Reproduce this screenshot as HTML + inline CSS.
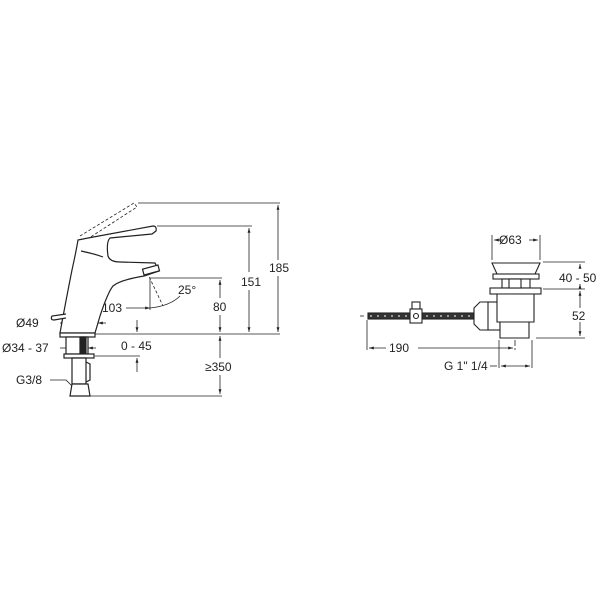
<!DOCTYPE html>
<html><head><meta charset="utf-8"><style>
html,body{margin:0;padding:0;background:#fff}
svg{display:block}
text{font-family:"Liberation Sans",sans-serif;font-size:12px;fill:#222}
</style></head><body>
<svg width="600" height="600" viewBox="0 0 600 600" xmlns="http://www.w3.org/2000/svg">
<defs>
<marker id="a" viewBox="0 0 10 10" refX="10" refY="5" markerWidth="6" markerHeight="6" orient="auto-start-reverse"><path d="M0,2 L10,5 L0,8 z" fill="#222"/></marker>
</defs>
<g stroke="#222" fill="none" stroke-width="0.8">
<path d="M80,236 L134,203 L137,207 L86,240" stroke-dasharray="3,2"/>
<line x1="138" y1="203" x2="280" y2="203"/>
<line x1="157" y1="226" x2="252" y2="226"/>
<line x1="150" y1="278" x2="222" y2="278"/>
<line x1="66" y1="334" x2="280" y2="334"/>
<line x1="85" y1="396" x2="222" y2="396"/>
<line x1="95" y1="356" x2="140" y2="356"/>
<line x1="278" y1="205" x2="278" y2="260" marker-start="url(#a)"/>
<line x1="278" y1="276" x2="278" y2="332" marker-end="url(#a)"/>
<line x1="249" y1="228" x2="249" y2="272" marker-start="url(#a)"/>
<line x1="249" y1="290" x2="249" y2="332" marker-end="url(#a)"/>
<line x1="220" y1="280" x2="220" y2="298" marker-start="url(#a)"/>
<line x1="220" y1="315" x2="220" y2="332" marker-end="url(#a)"/>
<line x1="220" y1="336" x2="220" y2="358" marker-start="url(#a)"/>
<line x1="220" y1="375" x2="220" y2="394" marker-end="url(#a)"/>
<line x1="77" y1="308" x2="100" y2="308" marker-start="url(#a)"/>
<line x1="126" y1="308" x2="150" y2="308" marker-end="url(#a)"/>
<line x1="150" y1="278" x2="150" y2="310"/>
<line x1="76" y1="305" x2="76" y2="345" stroke-dasharray="4,2"/>
<line x1="145" y1="268" x2="163" y2="306" stroke-dasharray="3,2"/>
<path d="M150,308 Q170,306 180,296"/>
<line x1="137" y1="320" x2="137" y2="332" marker-end="url(#a)"/>
<line x1="137" y1="372" x2="137" y2="358" marker-end="url(#a)"/>
<line x1="60" y1="323" x2="66" y2="323" marker-end="url(#a)"/>
<line x1="106" y1="323" x2="98" y2="323" marker-end="url(#a)"/>
<line x1="66" y1="323" x2="98" y2="323" stroke-dasharray="4,2"/>
<line x1="60" y1="348" x2="72" y2="348" marker-end="url(#a)"/>
<line x1="96" y1="348" x2="88" y2="348" marker-end="url(#a)"/>
<path d="M50,380 L66,380 L72,386"/>
</g>
<g stroke="#222" fill="#fff" stroke-width="1.2">
<path d="M78,240 L88,238 L153,226 Q157,226 156,231 L152,234 L110,238 Q106,242 108,256 Q110,262 120,262 L155,263 L159,271 L144,276 Q120,280 113,286 Q108,292 100,316 L95,333 L60,333 Q66,300 72,270 Q76,252 78,240 Z"/>
<path d="M81,251 Q95,254 103,257" fill="none"/>
<rect x="143" y="267" width="16" height="6" transform="rotate(-15 151 270)"/>
<path d="M66,314 L52,316 Q50,320 54,320 L66,318"/>
<rect x="60" y="333" width="35" height="4"/>
<rect x="66" y="337" width="22" height="17"/>
<rect x="80" y="337" width="6" height="17" fill="#222"/>
<rect x="64" y="354" width="30" height="4"/>
<path d="M72,358 L86,358 L86,384 L72,384 Z"/>
<path d="M86,362 L90,364 L90,380 L86,382" fill="none"/>
<path d="M72,384 L88,384 L90,396 L70,396 Z"/>
</g>
<g>
<text x="269" y="272">185</text>
<text x="241" y="286">151</text>
<text x="213" y="311">80</text>
<text x="205" y="371">≥350</text>
<text x="102" y="312">103</text>
<text x="178" y="294">25°</text>
<text x="16" y="327">Ø49</text>
<text x="2" y="352">Ø34 - 37</text>
<text x="121" y="350">0 - 45</text>
<text x="16" y="384">G3/8</text>
</g>
<g stroke="#222" fill="none" stroke-width="0.8">
<line x1="492" y1="235" x2="492" y2="260"/>
<line x1="540" y1="235" x2="540" y2="260"/>
<line x1="494" y1="240" x2="503" y2="240" marker-start="url(#a)"/>
<line x1="529" y1="240" x2="538" y2="240" marker-end="url(#a)"/>
<line x1="543" y1="262" x2="585" y2="262"/>
<line x1="543" y1="289" x2="585" y2="289"/>
<line x1="536" y1="338" x2="585" y2="338"/>
<line x1="580" y1="264" x2="580" y2="268" marker-start="url(#a)"/>
<line x1="580" y1="287" x2="580" y2="284" marker-end="url(#a)"/>
<line x1="580" y1="291" x2="580" y2="308" marker-start="url(#a)"/>
<line x1="580" y1="322" x2="580" y2="336" marker-end="url(#a)"/>
<line x1="367" y1="320" x2="367" y2="350"/>
<line x1="515" y1="280" x2="515" y2="352" stroke-dasharray="6,2,2,2"/>
<line x1="369" y1="348" x2="386" y2="348" marker-start="url(#a)"/>
<line x1="418" y1="348" x2="513" y2="348" marker-end="url(#a)"/>
<line x1="499" y1="340" x2="499" y2="368"/>
<line x1="532" y1="340" x2="532" y2="368"/>
<line x1="490" y1="366" x2="497" y2="366"/>
<line x1="501" y1="366" x2="530" y2="366" marker-start="url(#a)" marker-end="url(#a)"/>
<line x1="360" y1="316" x2="364" y2="316"/>
</g>
<g stroke="#222" fill="#fff" stroke-width="1.1">
<rect x="368" y="313" width="106" height="6" fill="#333"/>
<line x1="370" y1="316" x2="472" y2="316" stroke="#fff" stroke-width="1" stroke-dasharray="2,5"/>
<rect x="412" y="302" width="8" height="7"/>
<rect x="410" y="309" width="12" height="14"/>
<circle cx="416" cy="316" r="2.5"/>
<rect x="486" y="302" width="14" height="28"/>
<path d="M474,308 L480,302 L488,302 L488,330 L480,330 L474,324 Z"/>
<path d="M492,263 L540,263 L535,274 L497,274 Z"/>
<rect x="493" y="274" width="46" height="5"/>
<rect x="502" y="279" width="28" height="9"/>
<rect x="490" y="288" width="51" height="6"/>
<path d="M497,294 L534,294 L534,322 L529,322 L529,338 L500,338 L500,322 L497,322 Z"/>
<line x1="500" y1="322" x2="529" y2="322"/>
<rect x="509" y="279" width="12" height="9"/>
</g>
<g>
<text x="499" y="244">Ø63</text>
<text x="559" y="282">40 - 50</text>
<text x="572" y="320">52</text>
<text x="389" y="352">190</text>
<text x="444" y="370">G 1" 1/4</text>
</g>
</svg>
</body></html>
